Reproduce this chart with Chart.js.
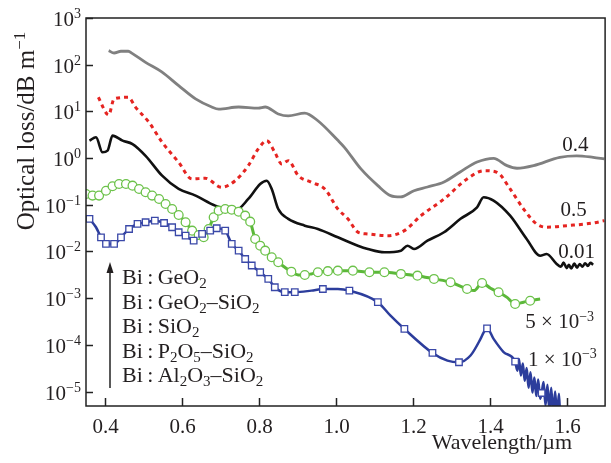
<!DOCTYPE html>
<html>
<head>
<meta charset="utf-8">
<script src="https://cdn.jsdelivr.net/npm/chart.js@4"></script>
<style>
  body { margin: 0; background: #fff; }
  canvas { display: block; }
</style>
</head>
<body>
<canvas id="loss-chart" width="611" height="463"></canvas>
<script>
// wavelength (um) and optical loss (dB/m)
const grayWl = [0.409, 0.423, 0.441, 0.460, 0.470, 0.505, 0.547, 0.591, 0.635, 0.677, 0.695, 0.747, 0.798, 0.816, 0.850, 0.876, 0.919, 0.953, 1.005, 1.022, 1.065, 1.109, 1.142, 1.168, 1.203, 1.238, 1.281, 1.323, 1.367, 1.410, 1.445, 1.471, 1.514, 1.582, 1.626, 1.669, 1.698];
const grayLoss = [200, 178, 194, 194, 175, 112, 70, 35.5, 18.5, 12.4, 11.2, 12.4, 11.8, 12.4, 8.8, 8.0, 9.2, 6.3, 2.4, 1.70, 0.585, 0.257, 0.157, 0.147, 0.200, 0.240, 0.308, 0.504, 0.824, 0.99, 0.688, 0.605, 0.688, 1.04, 1.12, 1.04, 0.96];

const redWl = [0.382, 0.409, 0.423, 0.460, 0.479, 0.514, 0.548, 0.591, 0.626, 0.660, 0.703, 0.738, 0.772, 0.798, 0.820, 0.841, 0.859, 0.876, 0.902, 0.936, 0.971, 1.005, 1.031, 1.057, 1.083, 1.134, 1.178, 1.221, 1.281, 1.341, 1.385, 1.419, 1.453, 1.488, 1.522, 1.548, 1.600, 1.669, 1.698];
const redLoss = [20, 8.4, 18.5, 20, 12.2, 5.8, 2.18, 0.81, 0.357, 0.369, 0.237, 0.328, 0.687, 1.57, 2.36, 1.33, 0.748, 0.88, 0.42, 0.303, 0.218, 0.081, 0.050, 0.026, 0.0237, 0.0218, 0.0279, 0.0584, 0.133, 0.357, 0.537, 0.496, 0.218, 0.081, 0.0388, 0.033, 0.0357, 0.0407, 0.0457];

const blackWl = [0.359, 0.376, 0.393, 0.406, 0.419, 0.445, 0.471, 0.505, 0.548, 0.591, 0.635, 0.686, 0.738, 0.772, 0.803, 0.820, 0.833, 0.850, 0.876, 0.919, 0.953, 1.005, 1.057, 1.083, 1.126, 1.169, 1.186, 1.203, 1.238, 1.281, 1.324, 1.367, 1.384, 1.410, 1.453, 1.496, 1.531, 1.548, 1.574, 1.585, 1.592, 1.600, 1.606, 1.612, 1.620, 1.627, 1.634, 1.641, 1.648, 1.655, 1.662, 1.669];
const blackLoss = [2.36, 2.79, 1.33, 1.44, 3.02, 2.36, 2.0, 1.12, 0.42, 0.218, 0.157, 0.0957, 0.0748, 0.133, 0.279, 0.328, 0.218, 0.081, 0.050, 0.0357, 0.0303, 0.0201, 0.0133, 0.0113, 0.0096, 0.0104, 0.0133, 0.0113, 0.017, 0.0258, 0.050, 0.0883, 0.145, 0.123, 0.0584, 0.0185, 0.0081, 0.0088, 0.0054, 0.0047, 0.0058, 0.0044, 0.0052, 0.0043, 0.0055, 0.0045, 0.0054, 0.0047, 0.0056, 0.0049, 0.0057, 0.0052];

const greenWl = [0.350, 0.367, 0.384, 0.402, 0.419, 0.436, 0.454, 0.471, 0.488, 0.505, 0.522, 0.540, 0.557, 0.574, 0.591, 0.609, 0.626, 0.643, 0.656, 0.669, 0.682, 0.695, 0.712, 0.729, 0.747, 0.764, 0.777, 0.790, 0.803, 0.816, 0.833, 0.850, 0.867, 0.884, 0.902, 0.919, 0.936, 0.953, 0.979, 1.005, 1.044, 1.087, 1.126, 1.169, 1.212, 1.255, 1.298, 1.341, 1.359, 1.380, 1.402, 1.423, 1.445, 1.466, 1.488, 1.505, 1.531];
const greenLoss = [0.170, 0.157, 0.157, 0.200, 0.249, 0.279, 0.279, 0.257, 0.218, 0.185, 0.157, 0.133, 0.104, 0.081, 0.0605, 0.0422, 0.0279, 0.0225, 0.0201, 0.0303, 0.054, 0.0748, 0.081, 0.0785, 0.0711, 0.0584, 0.0435, 0.0185, 0.0133, 0.0104, 0.0075, 0.00587, 0.00459, 0.00369, 0.00314, 0.00314, 0.0033, 0.00359, 0.00379, 0.00388, 0.00388, 0.00359, 0.00359, 0.0033, 0.00303, 0.00258, 0.00219, 0.00157, 0.00145, 0.00211, 0.00163, 0.00134, 0.00104, 0.00075, 0.00082, 0.00088, 0.00096];
// circle markers sit on a subset of the green points
const greenMarkWl = [0.350, 0.367, 0.384, 0.402, 0.419, 0.436, 0.454, 0.471, 0.488, 0.505, 0.522, 0.540, 0.557, 0.574, 0.591, 0.609, 0.626, 0.643, 0.656, 0.669, 0.682, 0.695, 0.712, 0.729, 0.747, 0.764, 0.777, 0.790, 0.803, 0.816, 0.833, 0.850, 0.884, 0.919, 0.953, 0.979, 1.005, 1.044, 1.087, 1.126, 1.169, 1.212, 1.255, 1.298, 1.341, 1.380, 1.423, 1.466, 1.505];
const greenMarkLoss = [0.170, 0.157, 0.157, 0.200, 0.249, 0.279, 0.279, 0.257, 0.218, 0.185, 0.157, 0.133, 0.104, 0.081, 0.0605, 0.0422, 0.0279, 0.0225, 0.0201, 0.0303, 0.054, 0.0748, 0.081, 0.0785, 0.0711, 0.0584, 0.0435, 0.0185, 0.0133, 0.0104, 0.0075, 0.00587, 0.00369, 0.00314, 0.00359, 0.00379, 0.00388, 0.00388, 0.00359, 0.00359, 0.0033, 0.00303, 0.00258, 0.00219, 0.00157, 0.00211, 0.00134, 0.00075, 0.00088];

const blueWl = [0.359, 0.376, 0.389, 0.402, 0.423, 0.441, 0.462, 0.484, 0.505, 0.529, 0.553, 0.574, 0.591, 0.609, 0.630, 0.652, 0.673, 0.690, 0.712, 0.729, 0.747, 0.764, 0.781, 0.803, 0.824, 0.841, 0.867, 0.893, 0.936, 0.966, 1.005, 1.035, 1.109, 1.142, 1.178, 1.251, 1.290, 1.320, 1.350, 1.376, 1.385, 1.393, 1.410, 1.436, 1.466, 1.472, 1.476, 1.481, 1.486, 1.491, 1.496, 1.501, 1.506, 1.511, 1.516, 1.521, 1.526, 1.531, 1.535, 1.540, 1.545, 1.550, 1.555, 1.560, 1.565, 1.570, 1.575, 1.580, 1.583];
const blueLoss = [0.050, 0.033, 0.0201, 0.0145, 0.0145, 0.0201, 0.0303, 0.0388, 0.0422, 0.0457, 0.0407, 0.033, 0.0258, 0.0218, 0.017, 0.0237, 0.0279, 0.0314, 0.0279, 0.0145, 0.0104, 0.0069, 0.005, 0.00359, 0.00258, 0.00171, 0.00134, 0.00134, 0.00145, 0.00157, 0.00157, 0.00145, 0.00082, 0.00042, 0.000219, 0.0000671, 0.000046, 0.0000424, 0.000059, 0.000134, 0.00019, 0.000226, 0.000134, 0.00007, 0.0000437, 0.000028, 0.000050, 0.000022, 0.000040, 0.000017, 0.000032, 0.000012, 0.000026, 0.0000095, 0.000020, 0.000008, 0.000018, 0.000007, 0.0000093, 0.000016, 0.000005, 0.000014, 0.000004, 0.000012, 0.000003, 0.000010, 0.000003, 0.000009, 0.000003];
// square markers on the blue curve
const blueMarkWl = [0.359, 0.389, 0.402, 0.423, 0.441, 0.462, 0.484, 0.505, 0.529, 0.553, 0.574, 0.591, 0.609, 0.630, 0.652, 0.673, 0.690, 0.712, 0.729, 0.747, 0.764, 0.781, 0.803, 0.824, 0.841, 0.867, 0.893, 0.966, 1.035, 1.109, 1.178, 1.251, 1.320, 1.393, 1.466, 1.535];
const blueMarkLoss = [0.050, 0.0201, 0.0145, 0.0145, 0.0201, 0.0303, 0.0388, 0.0422, 0.0457, 0.0407, 0.033, 0.0258, 0.0218, 0.017, 0.0237, 0.0279, 0.0314, 0.0279, 0.0145, 0.0104, 0.0069, 0.005, 0.00359, 0.00258, 0.00171, 0.00134, 0.00134, 0.00157, 0.00145, 0.00082, 0.000219, 0.0000671, 0.0000424, 0.000226, 0.0000437, 0.0000093];

const xTicks = [0.4, 0.6, 0.8, 1.0, 1.2, 1.4, 1.6];
const yExponents = [3, 2, 1, 0, -1, -2, -3, -4, -5];
const curveLabels = ['0.4', '0.5', '0.01', '5 × 10^{−3}', '1 × 10^{−3}'];
const glassNames = ['Bi\u2009:\u2009GeO_2', 'Bi\u2009:\u2009GeO_2–SiO_2', 'Bi\u2009:\u2009SiO_2', 'Bi\u2009:\u2009P_2O_5–SiO_2', 'Bi\u2009:\u2009Al_2O_3–SiO_2'];

const FONT = '"Liberation Serif", "Times New Roman", serif';
const TXT = '#231f20';

const pts = (xs, ys) => xs.map((v, i) => ({ x: v, y: ys[i] }));

// split "GeO_2" / "10^{-3}" into normal, sub and sup pieces
function richParts(str) {
    const parts = [];
    const re = /([_^])(\{[^}]*\}|.)/g;
    let last = 0, m;
    while ((m = re.exec(str))) {
        if (m.index > last) parts.push({ t: str.slice(last, m.index), k: 0 });
        let t = m[2];
        if (t[0] === '{') t = t.slice(1, -1);
        parts.push({ t: t, k: m[1] === '_' ? -1 : 1 });
        last = re.lastIndex;
    }
    if (last < str.length) parts.push({ t: str.slice(last), k: 0 });
    return parts;
}

function drawRich(ctx, str, x, y, size, align) {
    const small = Math.round(size * 0.66);
    const parts = richParts(str);
    let w = 0;
    parts.forEach(p => {
        ctx.font = (p.k ? small : size) + 'px ' + FONT;
        p.w = ctx.measureText(p.t).width;
        w += p.w;
    });
    let cx = align === 'right' ? x - w : align === 'center' ? x - w / 2 : x;
    ctx.textAlign = 'left';
    ctx.textBaseline = 'alphabetic';
    parts.forEach(p => {
        ctx.font = (p.k ? small : size) + 'px ' + FONT;
        const dy = p.k === 1 ? -size * 0.36 : p.k === -1 ? size * 0.2 : 0;
        ctx.fillText(p.t, cx, y + dy);
        cx += p.w;
    });
}

const decorations = {
    id: 'decorations',
    afterDraw(chart) {
        const { ctx, chartArea: a, scales: { x, y } } = chart;
        ctx.save();
        ctx.strokeStyle = '#222';
        ctx.fillStyle = TXT;
        ctx.lineWidth = 1.5;
        ctx.strokeRect(a.left, a.top, a.right - a.left, a.bottom - a.top);

        // y ticks (inside) and 10^n labels
        yExponents.forEach(e => {
            const py = Math.round(y.getPixelForValue(Math.pow(10, e))) + 0.5;
            ctx.beginPath();
            ctx.moveTo(a.left, py);
            ctx.lineTo(a.left + 7, py);
            ctx.stroke();
            const ex = e < 0 ? '−' + (-e) : String(e);
            drawRich(ctx, '10^{' + ex + '}', a.left - 5, py + 7, 21, 'right');
        });

        // x ticks (inside) and labels
        xTicks.forEach(v => {
            const px = Math.round(x.getPixelForValue(v)) + 0.5;
            ctx.beginPath();
            ctx.moveTo(px, a.bottom);
            ctx.lineTo(px, a.bottom - 8);
            ctx.stroke();
            drawRich(ctx, v.toFixed(1), px, a.bottom + 27, 21, 'center');
        });

        // axis titles
        drawRich(ctx, 'Wavelength/µm', a.right - 33, a.bottom + 43, 22, 'right');
        ctx.save();
        ctx.translate(34, 131);
        ctx.rotate(-Math.PI / 2);
        drawRich(ctx, 'Optical loss/dB m^{−1}', 0, 0, 25, 'center');
        ctx.restore();

        // labels at the right end of each curve
        const spots = [[1.623, 2.0], [1.618, 0.081], [1.626, 0.0103], [1.582, 3.2e-4], [1.589, 5.0e-5]];
        curveLabels.forEach((t, i) => {
            const px = x.getPixelForValue(spots[i][0]);
            const py = y.getPixelForValue(spots[i][1]);
            drawRich(ctx, t, px, py + 7, 21, 'center');
        });

        // glass list with arrow
        const lx = a.left + 24;
        ctx.beginPath();
        ctx.moveTo(lx, 388);
        ctx.lineTo(lx, 270);
        ctx.stroke();
        ctx.beginPath();
        ctx.moveTo(lx, 262);
        ctx.lineTo(lx - 3.5, 273);
        ctx.lineTo(lx + 3.5, 273);
        ctx.closePath();
        ctx.fill();
        glassNames.forEach((t, i) => {
            drawRich(ctx, t, a.left + 36, 284 + i * 24.5, 22, 'left');
        });
        ctx.restore();
    }
};

new Chart(document.getElementById('loss-chart'), {
    type: 'scatter',
    data: {
        datasets: [
            {
                data: pts(blueMarkWl, blueMarkLoss),
                showLine: false,
                pointStyle: 'rect',
                pointRadius: 4.6,
                pointBackgroundColor: '#ffffff',
                pointBorderColor: '#3a48a8',
                pointBorderWidth: 1.3
            },
            {
                data: pts(greenMarkWl, greenMarkLoss),
                showLine: false,
                pointStyle: 'circle',
                pointRadius: 4.4,
                pointBackgroundColor: '#ffffff',
                pointBorderColor: '#6cc24a',
                pointBorderWidth: 1.3
            },
            {
                data: pts(blueWl, blueLoss),
                showLine: true,
                borderColor: '#2c3d9c',
                borderWidth: 2.5,
                pointRadius: 0,
                cubicInterpolationMode: 'monotone'
            },
            {
                data: pts(greenWl, greenLoss),
                showLine: true,
                borderColor: '#5cb83a',
                borderWidth: 3,
                pointRadius: 0,
                cubicInterpolationMode: 'monotone'
            },
            {
                data: pts(blackWl, blackLoss),
                showLine: true,
                borderColor: '#111111',
                borderWidth: 2.6,
                pointRadius: 0,
                cubicInterpolationMode: 'monotone'
            },
            {
                data: pts(redWl, redLoss),
                showLine: true,
                borderColor: '#e52421',
                borderWidth: 3,
                borderDash: [4, 4],
                pointRadius: 0,
                cubicInterpolationMode: 'monotone'
            },
            {
                data: pts(grayWl, grayLoss),
                showLine: true,
                borderColor: '#808080',
                borderWidth: 2.8,
                pointRadius: 0,
                cubicInterpolationMode: 'monotone'
            }
        ]
    },
    options: {
        responsive: false,
        animation: false,
        layout: { padding: { top: 18, right: 2, left: 0, bottom: 0 } },
        plugins: {
            legend: { display: false },
            tooltip: { enabled: false }
        },
        scales: {
            x: {
                type: 'linear',
                min: 0.35,
                max: 1.70,
                ticks: { display: false },
                grid: { display: false },
                border: { display: false },
                afterFit: s => { s.height = 57; }
            },
            y: {
                type: 'logarithmic',
                min: 4.9e-6,
                max: 1000,
                ticks: { display: false },
                grid: { display: false },
                border: { display: false },
                afterFit: s => { s.width = 86; }
            }
        }
    },
    plugins: [decorations]
});
</script>
</body>
</html>
